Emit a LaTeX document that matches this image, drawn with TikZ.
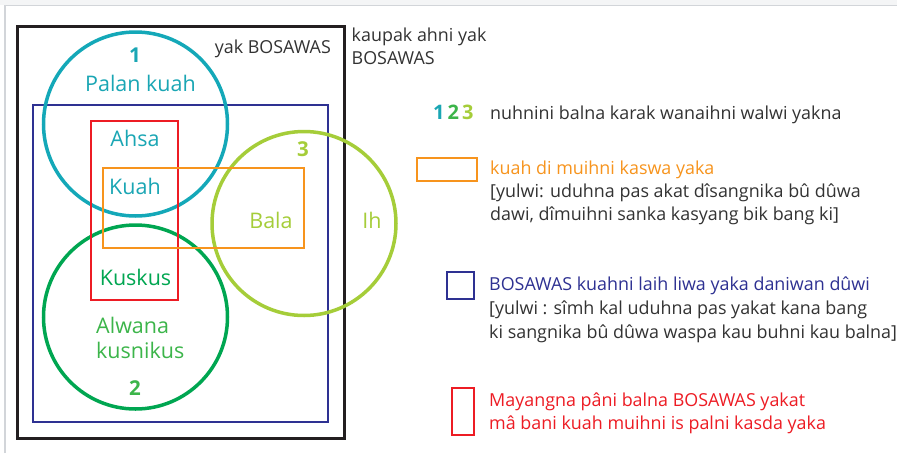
\documentclass[tikz,border=0pt]{standalone}
\usepackage{fontspec}
\setmainfont{Open Sans}
\definecolor{cteal}{HTML}{14A8B8}
\definecolor{tteal}{HTML}{1AA6B4}
\definecolor{cgreen}{HTML}{00A651}
\definecolor{lgreen}{HTML}{3CB54A}
\definecolor{ygreen}{HTML}{A5CD39}
\definecolor{corange}{HTML}{F7941D}
\definecolor{cred}{HTML}{ED1C24}
\definecolor{cnavy}{HTML}{2E3192}
\definecolor{dtext}{HTML}{333333}
\definecolor{cblack}{HTML}{231F20}
\definecolor{frame}{HTML}{D2D5D9}
\begin{document}
\begin{tikzpicture}[x=1pt,y=-1pt,
  ring/.style={draw,circle,line width=3.5pt,minimum size=184pt,inner sep=0pt},
  box/.style={draw,rectangle,inner sep=0pt},
  lab/.style={font=\fontsize{21.5}{25}\selectfont,inner sep=0pt,anchor=base},
  num/.style={font=\fontsize{20.5}{24}\selectfont\bfseries,inner sep=0pt,anchor=base},
  leg/.style={font=\fontsize{17.9}{23.5}\selectfont,inner sep=0pt,anchor=base west,text=dtext}]
\useasboundingbox (0,0) rectangle (897,453);
\fill[white] (0,0) rectangle (897,453);
\fill[frame!25] (0,0) rectangle (897,5);
\draw[frame,line width=1.5pt] (5,453) -- (5,5.5) -- (897,5.5);
% frames
\node[box,draw=cblack,line width=3pt,minimum width=327pt,minimum height=412pt] (outer) at (180.5,232) {};
\node[box,draw=cnavy,line width=1.5pt,minimum width=295pt,minimum height=317pt] (bos) at (180.5,263.5) {};
% circles
\node[ring,draw=cteal] (c1) at (135.5,124) {};
\node[ring,draw=cgreen] (c2) at (135.5,317) {};
\node[ring,draw=ygreen] (c3) at (304,223.5) {};
% rects
\node[box,draw=cred,line width=2pt,minimum width=87pt,minimum height=179pt] (red) at (134.5,210.5) {};
\node[box,draw=corange,line width=2pt,minimum width=201pt,minimum height=80pt] (org) at (203.5,208) {};
% labels
\node[leg,anchor=base east] (yak) at (331,53.3) {yak BOSAWAS};
\node[leg,align=left,anchor=north west] (kaup) at (351.5,27.5) {kaupak ahni yak\\BOSAWAS};
\node[num,text=tteal] (n1) at (135,62) {1};
\node[lab,text=tteal] (palan) at (140.5,91.7) {Palan kuah};
\node[lab,text=tteal] (ahsa) at (135,146.7) {Ahsa};
\node[lab,text=tteal] (kuah) at (135,194) {Kuah};
\node[num,text=ygreen] (n3) at (303,156.7) {3};
\node[lab,text=ygreen] (bala) at (271,228) {Bala};
\node[lab,text=ygreen] (ih) at (372,228) {Ih};
\node[lab,text=cgreen] (kusk) at (135.5,285) {Kuskus};
\node[lab,text=lgreen,anchor=base west] (alw) at (96,333.3) {Alwana};
\node[lab,text=lgreen,anchor=base west] (kusn) at (96,358.3) {kusnikus};
\node[num,text=lgreen] (n2) at (135,395) {2};
% legend
\node[num,anchor=base west,font=\fontsize{20}{23}\selectfont\bfseries] (l123) at (433,119) {\textcolor{tteal}{1}\hspace{3pt}\textcolor{lgreen}{2}\hspace{3pt}\textcolor{ygreen}{3}};
\node[leg] (t1) at (490,119) {nuhnini balna karak wanaihni walwi yakna};
\node[box,draw=corange,line width=2pt,minimum width=60pt,minimum height=23pt] (korg) at (447,169.5) {};
\node[leg,text=corange] (t2) at (490,174) {kuah di muihni kaswa yaka};
\node[leg] (t2b) at (490,197) {[yulwi: uduhna pas akat dîsangnika bû dûwa};
\node[leg] (t2c) at (490,220) {dawi, dîmuihni sanka kasyang bik bang ki]};
\node[box,draw=cnavy,line width=2pt,minimum width=27.5pt,minimum height=27.5pt] (knav) at (460.5,285.3) {};
\node[leg,text=cnavy] (t3) at (489,290.7) {BOSAWAS kuahni laih liwa yaka daniwan dûwi};
\node[leg] (t3b) at (489,314.5) {[yulwi : sîmh kal uduhna pas yakat kana bang};
\node[leg] (t3c) at (489,338) {ki sangnika bû dûwa waspa kau buhni kau balna]};
\node[box,draw=cred,line width=2pt,minimum width=22.5pt,minimum height=46.5pt] (kred) at (463,411.7) {};
\node[leg,text=cred] (t4) at (489,406.7) {Mayangna pâni balna BOSAWAS yakat};
\node[leg,text=cred] (t4b) at (489,429.5) {mâ bani kuah muihni is palni kasda yaka};
\end{tikzpicture}
\end{document}
